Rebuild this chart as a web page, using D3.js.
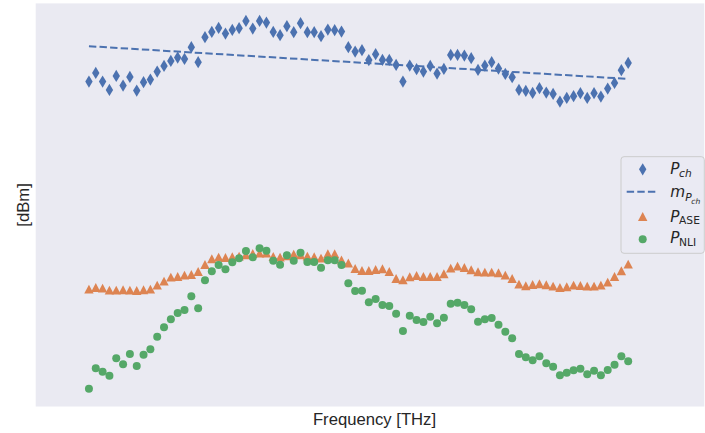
<!DOCTYPE html>
<html>
<head>
<meta charset="utf-8">
<script src="https://cdn.jsdelivr.net/npm/d3@7"></script>
<style>
  html, body { margin: 0; padding: 0; background: #ffffff; }
  svg { display: block; }
</style>
</head>
<body>
<svg id="chart" width="705" height="433"></svg>
<script>
// Channel index (80 channels across the band)
const channels = d3.range(80);

// Channel power P_ch [dBm]
const pCh = [-7.52,-6.65,-7.52,-8.35,-6.95,-7.92,-7.05,-8.42,-7.58,-7.32,
  -6.52,-5.95,-5.45,-5.12,-5.25,-4.08,-5.58,-3.08,-2.55,-2.15,
  -2.72,-2.35,-2.18,-1.45,-2.22,-1.45,-1.62,-2.55,-2.88,-1.98,
  -2.58,-1.68,-2.58,-2.58,-2.98,-2.32,-2.38,-2.52,-4.08,-4.52,
  -4.38,-5.37,-4.78,-5.35,-5.35,-5.85,-7.52,-5.92,-6.28,-6.52,
  -5.95,-6.72,-6.25,-4.85,-4.85,-4.92,-5.18,-6.35,-5.92,-5.58,
  -6.22,-6.75,-7.08,-8.35,-8.45,-8.65,-8.18,-8.62,-8.75,-9.52,
  -9.15,-8.98,-8.68,-9.15,-8.68,-9.02,-8.22,-7.65,-6.38,-5.65];

// Linear fit of channel power m_Pch: values at first and last channel
const mFitX = [0, 79];
const mFit = [-3.98, -7.25];

// ASE power P_ASE [dBm]
const pAse = [-28.28,-28.12,-28.18,-28.38,-28.38,-28.35,-28.38,-28.42,-28.35,-28.28,
  -27.88,-27.48,-27.08,-27.02,-26.88,-26.82,-26.52,-25.82,-25.25,-25.08,
  -25.12,-25.05,-24.98,-24.85,-24.72,-24.68,-24.68,-25.02,-25.08,-24.95,
  -24.78,-24.85,-24.98,-25.05,-25.18,-24.75,-24.75,-25.37,-25.67,-26.22,
  -26.42,-26.42,-26.32,-26.25,-26.52,-27.22,-27.35,-27.05,-26.92,-27.02,
  -27.02,-27.02,-26.75,-26.18,-25.98,-26.12,-26.35,-26.55,-26.58,-26.58,
  -26.65,-26.88,-27.22,-27.78,-27.95,-27.82,-27.75,-27.85,-27.98,-28.12,
  -28.05,-27.88,-27.92,-27.98,-27.98,-27.88,-27.58,-27.02,-26.45,-25.78];

// NLI power P_NLI [dBm]
const pNli = [-38.22,-36.18,-36.52,-36.92,-35.18,-35.78,-34.75,-35.95,-34.82,-34.28,
  -33.02,-32.08,-31.28,-30.65,-30.35,-28.98,-30.18,-27.38,-26.48,-25.85,
  -26.28,-25.58,-25.18,-24.45,-25.08,-24.18,-24.42,-25.42,-25.82,-24.88,
  -25.42,-24.62,-25.55,-25.55,-26.12,-25.38,-25.38,-25.85,-27.68,-28.45,
  -28.42,-29.58,-29.25,-29.85,-29.95,-30.72,-32.45,-30.92,-31.35,-31.55,
  -31.02,-31.68,-31.12,-29.72,-29.62,-29.85,-30.28,-31.52,-31.28,-31.15,
  -31.82,-32.52,-33.18,-34.75,-35.08,-35.38,-34.98,-35.68,-36.02,-36.88,
  -36.62,-36.38,-36.22,-36.78,-36.42,-36.88,-36.35,-35.82,-34.98,-35.48];

const xLabel = "Frequency [THz]";
const yLabel = "[dBm]";

const colors = { ch: "#4C72B0", ase: "#DD8452", nli: "#55A868" };

const svg = d3.select("#chart");
const margin = { left: 35.7, right: 0.7, top: 3.4, bottom: 26.5 };
const W = 705, H = 433;
const plotL = margin.left, plotR = W - margin.right, plotT = margin.top, plotB = H - margin.bottom;

const x = d3.scaleLinear().domain([-7.8, 90.15]).range([plotL, plotR]);
const y = d3.scaleLinear().domain([-40, 0.3]).range([plotB, plotT]);

// Axes background
svg.append("rect").attr("x", plotL).attr("y", plotT)
  .attr("width", plotR - plotL).attr("height", plotB - plotT)
  .attr("fill", "#EAEAF2");

// Axes (no ticks, seaborn style without spines)
const xAxis = d3.axisBottom(x).tickValues([]).tickSize(0);
const yAxis = d3.axisLeft(y).tickValues([]).tickSize(0);
svg.append("g").attr("transform", `translate(0,${plotB})`).call(xAxis)
  .call(g => g.select(".domain").remove());
svg.append("g").attr("transform", `translate(${plotL},0)`).call(yAxis)
  .call(g => g.select(".domain").remove());

const diamondPath = "M0,-6.1L3.7,0L0,6.1L-3.7,0Z";
const trianglePath = "M0,-4.6L4.7,4.3L-4.7,4.3Z";
const circleR = 4;

// P_ch diamonds
svg.append("g").selectAll("path").data(channels).join("path")
  .attr("d", diamondPath)
  .attr("transform", i => `translate(${x(i)},${y(pCh[i])})`)
  .attr("fill", colors.ch);

// Linear fit dashed line
svg.append("path")
  .datum(mFitX.map((v, k) => [v, mFit[k]]))
  .attr("d", d3.line().x(d => x(d[0])).y(d => y(d[1])))
  .attr("fill", "none").attr("stroke", colors.ch)
  .attr("stroke-width", 2).attr("stroke-dasharray", "7.4,3.2");

// P_ASE triangles
svg.append("g").selectAll("path").data(channels).join("path")
  .attr("d", trianglePath)
  .attr("transform", i => `translate(${x(i)},${y(pAse[i])})`)
  .attr("fill", colors.ase);

// P_NLI circles
svg.append("g").selectAll("circle").data(channels).join("circle")
  .attr("cx", i => x(i)).attr("cy", i => y(pNli[i])).attr("r", circleR)
  .attr("fill", colors.nli);

// Axis labels
svg.append("text").attr("x", (plotL + plotR) / 2 + 4.5).attr("y", 424.5)
  .attr("text-anchor", "middle")
  .attr("font-family", "'Liberation Sans', Arial, sans-serif")
  .attr("font-size", "16.67px").attr("fill", "#262626").text(xLabel);

svg.append("text")
  .attr("transform", `translate(28.5,${(plotT + plotB) / 2}) rotate(-90)`)
  .attr("text-anchor", "middle")
  .attr("font-family", "'Liberation Sans', Arial, sans-serif")
  .attr("font-size", "16.67px").attr("fill", "#262626").text(yLabel);

// Legend
const leg = svg.append("g");
leg.append("rect").attr("x", 621).attr("y", 156.7).attr("width", 83.3).attr("height", 96.6)
  .attr("rx", 3).attr("ry", 3)
  .attr("fill", "#EAEAF2").attr("fill-opacity", 0.8)
  .attr("stroke", "#CCCCCC").attr("stroke-width", 1);

const legX = 642.7;
leg.append("path").attr("d", diamondPath).attr("transform", `translate(${legX},169.3)`).attr("fill", colors.ch);
leg.append("line").attr("x1", 626.7).attr("x2", 658.3).attr("y1", 191.7).attr("y2", 191.7)
  .attr("stroke", colors.ch).attr("stroke-width", 2).attr("stroke-dasharray", "7.4,3.2");
leg.append("path").attr("d", trianglePath).attr("transform", `translate(${legX},216.7)`).attr("fill", colors.ase);
leg.append("circle").attr("cx", legX).attr("cy", 239.3).attr("r", circleR).attr("fill", colors.nli);

const mathFont = "'DejaVu Sans', sans-serif";
function legText(yBase, parts) {
  const t = leg.append("text").attr("x", 670.3).attr("y", yBase)
    .attr("font-family", mathFont).attr("font-size", "15.3px").attr("fill", "#262626");
  parts.forEach(p => {
    const ts = t.append("tspan").text(p.t);
    if (p.italic) ts.attr("font-style", "italic");
    if (p.size) ts.attr("font-size", p.size);
    if (p.dy) ts.attr("dy", p.dy);
    if (p.dx) ts.attr("dx", p.dx);
  });
}
legText(174, [{ t: "P", italic: true }, { t: "ch", italic: true, size: "10.7px", dy: 3.3, dx: -0.5 }]);
legText(197.3, [{ t: "m", italic: true }, { t: "P", italic: true, size: "10.7px", dy: 3.8 }, { t: "ch", italic: true, size: "7.6px", dy: 2.4, dx: -0.3 }]);
legText(221.7, [{ t: "P", italic: true }, { t: "ASE", size: "10.7px", dy: 2.3, dx: -0.5 }]);
legText(243.3, [{ t: "P", italic: true }, { t: "NLI", size: "10.7px", dy: 2.3, dx: -0.5 }]);
</script>
</body>
</html>
